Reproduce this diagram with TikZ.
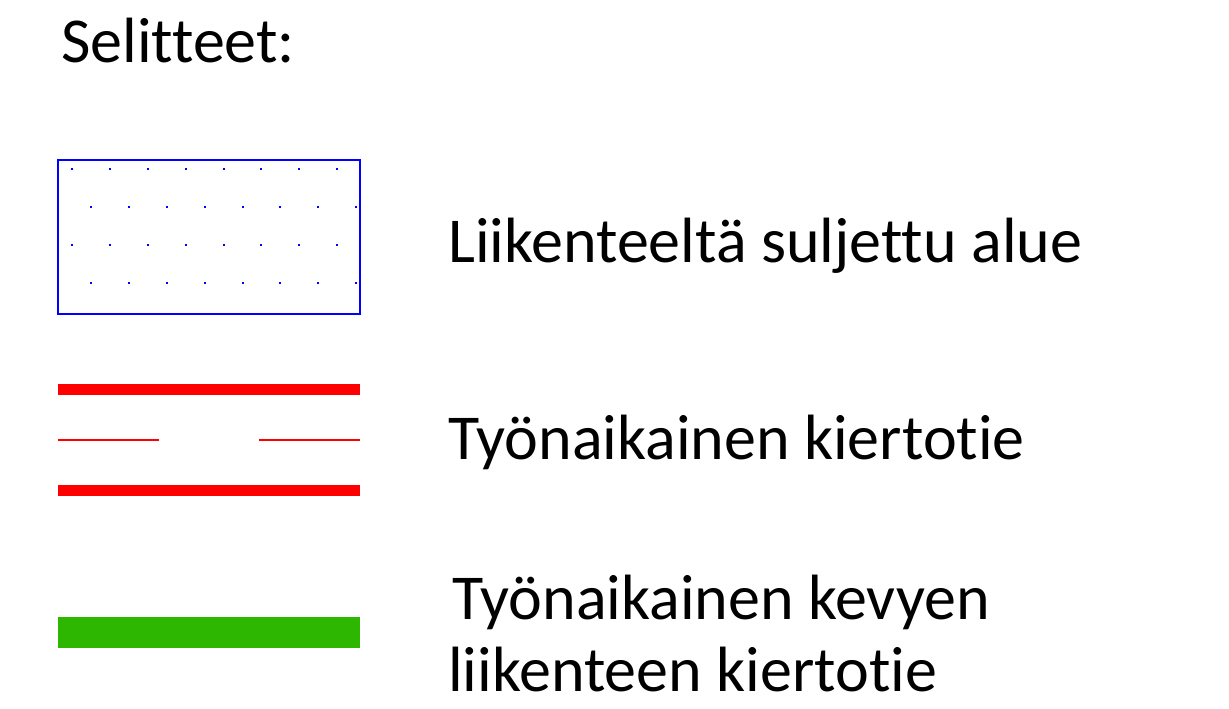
\documentclass[tikz,border=0pt]{standalone}
\usepackage{fontspec}
\setmainfont[Ligatures={NoCommon}]{Carlito}
\definecolor{legblue}{HTML}{0000FF}
\definecolor{legred}{HTML}{FF0000}
\definecolor{leggreen}{HTML}{2DB700}
\begin{document}
\begin{tikzpicture}[x=1pt,y=-1pt,
  legtext/.style={anchor=base west,inner sep=0pt,font=\fontsize{64}{78}\selectfont},
  closedbox/.style={draw=legblue,line width=1.3pt},
  legdot/.style={fill=legblue,draw=none},
  thickred/.style={draw=legred,line width=11pt},
  thinred/.style={fill=legred,draw=none},
  greenbar/.style={draw=leggreen,line width=31.5pt}]
\useasboundingbox (0,0) rectangle (1229,709);
\node[legtext] (title) at (61,63) {Selitteet:};
% closed area
\draw[closedbox] (58,160) rectangle (360,314);
\foreach \r/\y/\x in {0/169.3/72.3,1/207.3/91.3,2/245.3/72.3,3/283/91.3}{
  \foreach \i in {0,...,7}{
    \fill[legdot] (\x+\i*37.8-1,\y-1) rectangle ++(2,2);
  }
}
\node[legtext] (t1) at (448,262) {Liikenteeltä suljettu alue};
% detour
\coordinate (r1a) at (58,389.7); \coordinate (r1b) at (360,389.7);
\coordinate (r2a) at (58,490); \coordinate (r2b) at (360,490);
\coordinate (m1a) at (58,438.5); \coordinate (m1b) at (159.3,440.5);
\coordinate (m2a) at (259,438.5); \coordinate (m2b) at (360,440.5);
\draw[thickred] (r1a) -- (r1b);
\draw[thickred] (r2a) -- (r2b);
\fill[thinred] (m1a) rectangle (m1b);
\fill[thinred] (m2a) rectangle (m2b);
\node[legtext] (t2) at (448,459.5) {Työnaikainen kiertotie};
% green
\coordinate (ga) at (58,632.5); \coordinate (gb) at (360,632.5);
\draw[greenbar] (ga) -- (gb);
\node[legtext] (t3) at (452,619.5) {Työnaikainen kevyen};
\node[legtext] (t4) at (448,691.7) {liikenteen kiertotie};
\end{tikzpicture}
\end{document}
